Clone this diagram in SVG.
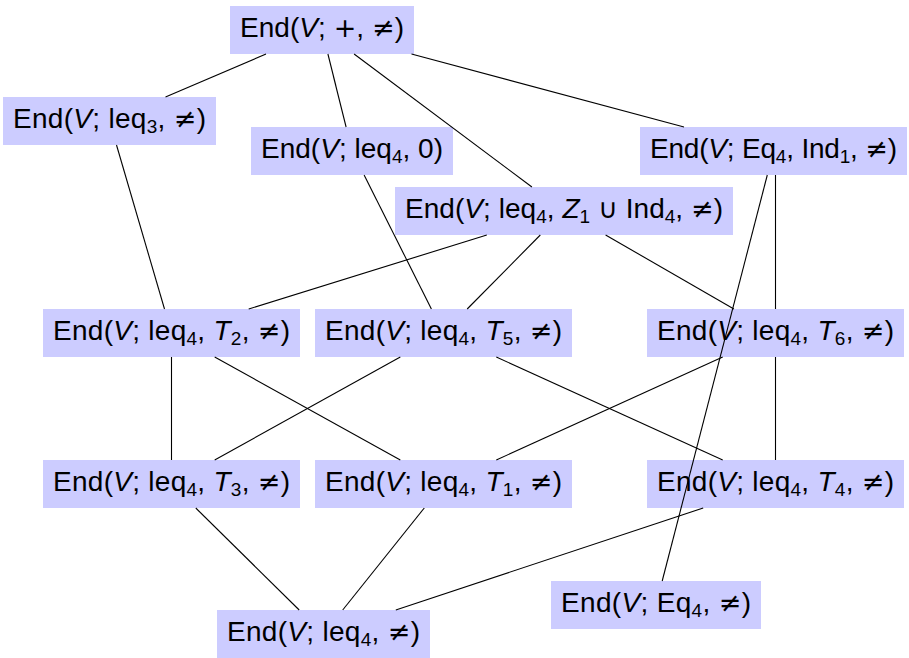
<svg xmlns="http://www.w3.org/2000/svg" width="909" height="658" viewBox="0 0 909 658">
<style>
.box{fill:#ccccff;stroke:none;}
.lbl{font-family:"Liberation Sans","DejaVu Sans",sans-serif;font-size:28px;fill:#000;text-anchor:middle;}
.it{font-style:italic;}
.sub{font-size:19px;}
.sym{font-family:"DejaVu Sans",sans-serif;font-size:27px;}
.edge{stroke:#000;stroke-width:1.1;fill:none;}
</style>
<rect width="909" height="658" fill="#ffffff"/>
<g id="nodes">
<g id="n-top"><rect class="box" x="230" y="6" width="184" height="48"/><text class="lbl" x="322" y="37" textLength="164" lengthAdjust="spacing">End(<tspan class="it">V</tspan>; <tspan class="sym">+</tspan>, <tspan class="sym">≠</tspan>)</text></g>
<g id="n-leq3"><rect class="box" x="3" y="97" width="213" height="48"/><text class="lbl" x="109.5" y="128" textLength="193" lengthAdjust="spacing">End(<tspan class="it">V</tspan>; leq<tspan class="sub" dy="5">3</tspan><tspan dy="-5">, </tspan><tspan class="sym">≠</tspan>)</text></g>
<g id="n-leq4-0"><rect class="box" x="251" y="127" width="202" height="48"/><text class="lbl" x="352" y="158" textLength="182" lengthAdjust="spacing">End(<tspan class="it">V</tspan>; leq<tspan class="sub" dy="5">4</tspan><tspan dy="-5">, 0)</tspan></text></g>
<g id="n-eq4-ind1"><rect class="box" x="640" y="127" width="267" height="48"/><text class="lbl" x="773.5" y="158" textLength="247" lengthAdjust="spacing">End(<tspan class="it">V</tspan>; Eq<tspan class="sub" dy="5">4</tspan><tspan dy="-5">, Ind</tspan><tspan class="sub" dy="5">1</tspan><tspan dy="-5">, </tspan><tspan class="sym">≠</tspan>)</text></g>
<g id="n-z1-ind4"><rect class="box" x="395" y="187" width="338" height="48"/><text class="lbl" x="564" y="218" textLength="318" lengthAdjust="spacing">End(<tspan class="it">V</tspan>; leq<tspan class="sub" dy="5">4</tspan><tspan dy="-5">, </tspan><tspan class="it">Z</tspan><tspan class="sub" dy="5">1</tspan><tspan dy="-5"> </tspan><tspan class="sym">∪</tspan> Ind<tspan class="sub" dy="5">4</tspan><tspan dy="-5">, </tspan><tspan class="sym">≠</tspan>)</text></g>
<g id="n-t2"><rect class="box" x="43" y="309" width="257" height="48"/><text class="lbl" x="171.5" y="340" textLength="237" lengthAdjust="spacing">End(<tspan class="it">V</tspan>; leq<tspan class="sub" dy="5">4</tspan><tspan dy="-5">, </tspan><tspan class="it">T</tspan><tspan class="sub" dy="5">2</tspan><tspan dy="-5">, </tspan><tspan class="sym">≠</tspan>)</text></g>
<g id="n-t5"><rect class="box" x="315" y="309" width="257" height="48"/><text class="lbl" x="443.5" y="340" textLength="237" lengthAdjust="spacing">End(<tspan class="it">V</tspan>; leq<tspan class="sub" dy="5">4</tspan><tspan dy="-5">, </tspan><tspan class="it">T</tspan><tspan class="sub" dy="5">5</tspan><tspan dy="-5">, </tspan><tspan class="sym">≠</tspan>)</text></g>
<g id="n-t6"><rect class="box" x="647" y="309" width="257" height="48"/><text class="lbl" x="775.5" y="340" textLength="237" lengthAdjust="spacing">End(<tspan class="it">V</tspan>; leq<tspan class="sub" dy="5">4</tspan><tspan dy="-5">, </tspan><tspan class="it">T</tspan><tspan class="sub" dy="5">6</tspan><tspan dy="-5">, </tspan><tspan class="sym">≠</tspan>)</text></g>
<g id="n-t3"><rect class="box" x="43" y="460" width="257" height="48"/><text class="lbl" x="171.5" y="491" textLength="237" lengthAdjust="spacing">End(<tspan class="it">V</tspan>; leq<tspan class="sub" dy="5">4</tspan><tspan dy="-5">, </tspan><tspan class="it">T</tspan><tspan class="sub" dy="5">3</tspan><tspan dy="-5">, </tspan><tspan class="sym">≠</tspan>)</text></g>
<g id="n-t1"><rect class="box" x="315" y="460" width="257" height="48"/><text class="lbl" x="443.5" y="491" textLength="237" lengthAdjust="spacing">End(<tspan class="it">V</tspan>; leq<tspan class="sub" dy="5">4</tspan><tspan dy="-5">, </tspan><tspan class="it">T</tspan><tspan class="sub" dy="5">1</tspan><tspan dy="-5">, </tspan><tspan class="sym">≠</tspan>)</text></g>
<g id="n-t4"><rect class="box" x="647" y="460" width="257" height="48"/><text class="lbl" x="775.5" y="491" textLength="237" lengthAdjust="spacing">End(<tspan class="it">V</tspan>; leq<tspan class="sub" dy="5">4</tspan><tspan dy="-5">, </tspan><tspan class="it">T</tspan><tspan class="sub" dy="5">4</tspan><tspan dy="-5">, </tspan><tspan class="sym">≠</tspan>)</text></g>
<g id="n-eq4"><rect class="box" x="551" y="581" width="210" height="48"/><text class="lbl" x="656" y="612" textLength="190" lengthAdjust="spacing">End(<tspan class="it">V</tspan>; Eq<tspan class="sub" dy="5">4</tspan><tspan dy="-5">, </tspan><tspan class="sym">≠</tspan>)</text></g>
<g id="n-leq4"><rect class="box" x="217" y="610" width="213" height="48"/><text class="lbl" x="323.5" y="641" textLength="193" lengthAdjust="spacing">End(<tspan class="it">V</tspan>; leq<tspan class="sub" dy="5">4</tspan><tspan dy="-5">, </tspan><tspan class="sym">≠</tspan>)</text></g>
</g>
<g id="connectors" class="edge">
<line x1="266" y1="54" x2="165.5" y2="97"/>
<line x1="327.9" y1="54" x2="346.1" y2="127"/>
<line x1="354.1" y1="54" x2="531.9" y2="187"/>
<line x1="411.5" y1="54" x2="684" y2="127"/>
<line x1="116.5" y1="145" x2="164.5" y2="309"/>
<line x1="364.1" y1="175" x2="431.4" y2="309"/>
<line x1="486.8" y1="235" x2="248.7" y2="309"/>
<line x1="540.3" y1="235" x2="467.2" y2="309"/>
<line x1="605.6" y1="235" x2="733.9" y2="309"/>
<line x1="775.5" y1="175" x2="775.5" y2="309"/>
<line x1="767.3" y1="175" x2="662.2" y2="581"/>
<line x1="171.5" y1="357" x2="171.5" y2="460"/>
<line x1="214.7" y1="357" x2="400.3" y2="460"/>
<line x1="400.3" y1="357" x2="214.7" y2="460"/>
<line x1="496.3" y1="357" x2="722.7" y2="460"/>
<line x1="722.7" y1="357" x2="496.3" y2="460"/>
<line x1="775.5" y1="357" x2="775.5" y2="460"/>
<line x1="195.8" y1="508" x2="299.2" y2="610"/>
<line x1="424.3" y1="508" x2="342.7" y2="610"/>
<line x1="703.2" y1="508" x2="395.8" y2="610"/>
</g>
</svg>
